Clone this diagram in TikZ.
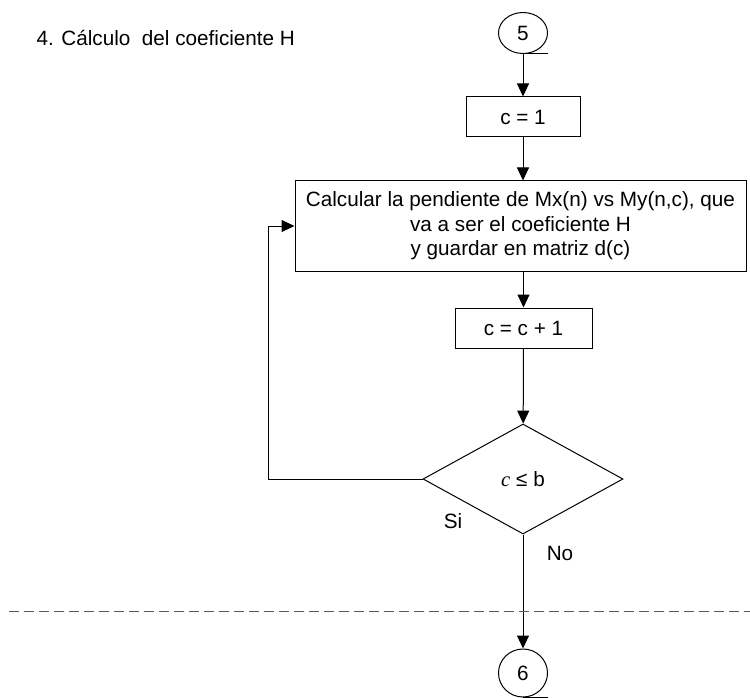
\documentclass[tikz,border=0pt]{standalone}
\usepackage{fontspec}
\setmainfont{Liberation Sans}
\newfontfamily\timesfont{Liberation Serif}
\usetikzlibrary{arrows.meta,shapes.geometric}

\tikzset{
  procbox/.style={draw, rectangle, inner sep=0pt, align=center},
  connector/.style={draw, ellipse, inner sep=0pt},
  decision/.style={draw, diamond, inner sep=0pt, minimum width=200pt, minimum height=110pt},
  flow/.style={-{Triangle[length=13pt,width=12pt]}},
  lbl/.style={inner sep=0pt},
}

\begin{document}
\begin{tikzpicture}[x=1pt, y=-1pt, line width=1pt, font=\fontsize{20.7}{24.5}\selectfont]
\useasboundingbox (0,0) rectangle (750,698);

% title
\node[lbl, anchor=west] (title) at (36,38) {4. Cálculo\ \ del coeficiente H};

% off-page connectors
\node[connector, minimum width=49pt, minimum height=41pt] (c5) at (523,33) {5};
\node[connector, minimum width=49pt, minimum height=48pt] (c6) at (523,673) {6};
\draw (c5.south) -- ++(25,0);
\draw (c6.south) -- ++(25,0);

% process boxes
\node[procbox, minimum width=114pt, minimum height=40pt] (init) at (523,117) {c = 1};
\node[procbox, minimum width=451pt, minimum height=90pt] (calc) at (520.5,226)
  {Calcular la pendiente de Mx(n) vs My(n,c), que\\va a ser el coeficiente H\\y guardar en matriz d(c)};
\node[procbox, minimum width=137pt, minimum height=40pt] (inc) at (523.5,328) {c = c + 1};

% decision
\node[decision] (dec) at (523,479) {{\timesfont\itshape c} ≤ b};

% connectors
\draw[flow] (c5) -- (init);
\draw[flow] (init) -- (init |- calc.north);
\draw[flow] (calc.south -| inc.north) -- (inc);
\draw[flow] (inc) -- (dec);
\coordinate (loop) at (268,479);
\draw[flow] (dec.west) -- (loop) |- (calc.west);
\draw[flow] (dec.south) -- (c6.north);

% branch labels
\node[lbl] (si) at (453,521) {Si};
\node[lbl] (no) at (560,553) {No};

% page separator
\draw[black!65, dash pattern=on 10pt off 5pt] (9,611) -- (750,611);
\end{tikzpicture}
\end{document}
